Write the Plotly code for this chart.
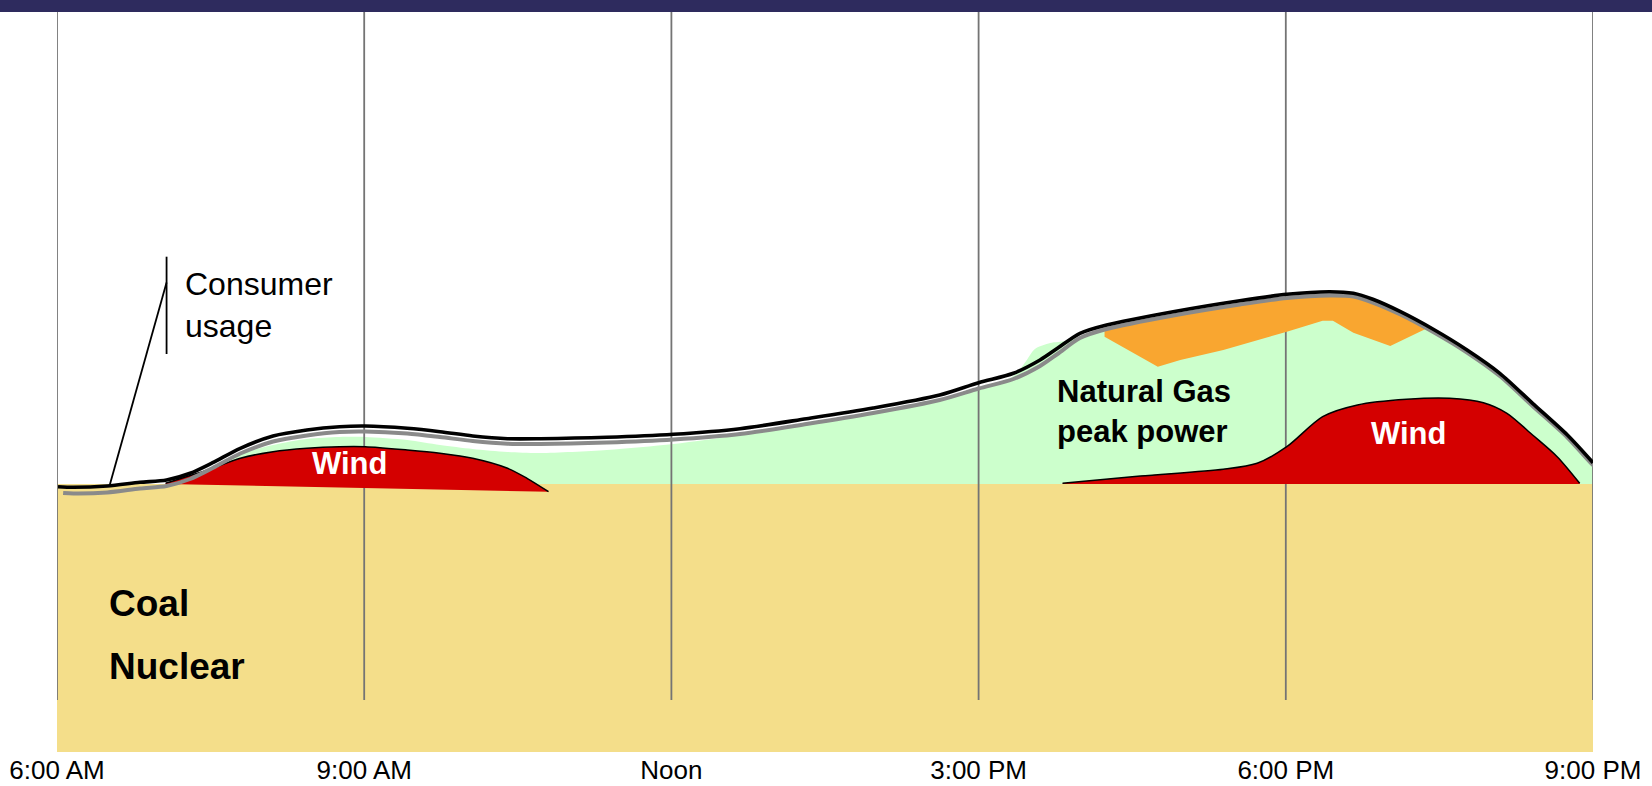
import plotly.graph_objects as go

# ---------------- data (x in hours of day, y in GW-like load units) ----------------
tick_hours = [6, 9, 12, 15, 18, 21]
tick_labels = ["6:00 AM", "9:00 AM", "Noon", "3:00 PM", "6:00 PM", "9:00 PM"]

base_load = 26.8  # coal / nuclear level

usage_x = [6.01, 6.16, 6.49, 6.81, 7.07, 7.30, 7.52, 7.79, 8.11, 8.44, 8.76, 9.01, 9.42, 9.74,
           10.06, 10.40, 10.72, 11.37, 12.02, 12.67, 13.32, 13.97, 14.62, 15.00, 15.34, 15.60,
           15.77, 15.99, 16.25, 16.90, 17.55, 18.01, 18.43, 18.66, 18.85, 19.12, 19.44, 19.77,
           20.09, 20.41, 20.75, 21.00]
usage_y = [26.53, 26.47, 26.60, 26.97, 27.20, 27.87, 28.93, 30.37, 31.60, 32.20, 32.53, 32.60,
           32.37, 32.03, 31.60, 31.33, 31.33, 31.47, 31.77, 32.33, 33.33, 34.40, 35.70, 36.93,
           37.87, 39.20, 40.37, 41.87, 42.70, 44.03, 45.13, 45.77, 46.03, 45.87, 45.27, 44.03,
           42.27, 40.20, 37.87, 34.87, 31.70, 28.93]

shadow_x = [6.06, 6.16, 6.49, 6.81, 7.07, 7.30, 7.52, 7.79, 8.11, 8.44, 8.76, 9.01, 9.42, 9.74,
            10.06, 10.40, 10.72, 11.37, 12.02, 12.67, 13.32, 13.97, 14.62, 15.00, 15.34, 15.60,
            15.77, 15.99, 16.25, 16.90, 17.55, 18.01, 18.43, 18.66, 18.85, 19.12, 19.44, 19.77,
            20.09, 20.41, 20.75, 21.00, 21.05]
shadow_y = [25.90, 25.85, 25.95, 26.35, 26.60, 27.30, 28.40, 29.85, 31.05, 31.65, 32.00, 32.05,
            31.85, 31.50, 31.10, 30.83, 30.80, 30.95, 31.25, 31.80, 32.80, 33.90, 35.20, 36.35,
            37.30, 38.60, 39.80, 41.40, 42.30, 43.65, 44.75, 45.40, 45.65, 45.55, 44.95, 43.75,
            42.00, 39.95, 37.60, 34.60, 31.45, 28.70, 28.30]

gas_x = [7.70, 8.11, 8.44, 8.76, 9.01, 9.42, 9.74, 10.06, 10.40, 10.72, 11.37, 12.02, 12.67,
         13.32, 13.97, 14.62, 15.00, 15.34, 15.45, 15.55, 15.70, 15.85, 15.99, 16.25, 16.90,
         17.55, 18.01, 18.43, 18.66, 18.85, 19.12, 19.44, 19.77, 20.09, 20.41, 20.75, 21.00,
         21.07, 21.07]
gas_y = [29.6, 30.7, 31.3, 31.5, 31.5, 31.2, 30.7, 30.3, 30.0, 29.9, 30.2, 30.8, 31.7,
         32.8, 33.9, 35.2, 36.35, 37.6, 38.9, 40.3, 40.9, 41.1, 41.5, 42.4, 43.8,
         44.9, 45.5, 45.7, 45.6, 45.0, 43.8, 42.1, 40.1, 37.7, 34.8, 31.7, 29.0,
         27.5, 25.5]
gas_floor_x = [7.60, 21.07]
gas_floor_y = [25.0, 25.0]

wind_am_x = [7.06, 7.47, 7.79, 8.11, 8.44, 8.76, 9.01, 9.42, 9.74, 10.06, 10.40, 10.59, 10.80]
wind_am_y = [26.87, 28.20, 29.37, 30.03, 30.37, 30.53, 30.53, 30.20, 29.87, 29.37, 28.37, 27.37, 26.03]
wind_am_floor_x = [7.06, 10.80]
wind_am_floor_y = [26.80, 26.03]

wind_pm_x = [15.82, 16.58, 17.39, 17.72, 18.01, 18.36, 18.70, 19.18, 19.60, 19.93, 20.16,
             20.41, 20.65, 20.87]
wind_pm_y = [26.87, 27.60, 28.27, 28.87, 30.53, 33.53, 34.70, 35.27, 35.37, 34.93, 33.87,
             31.70, 29.53, 26.87]
wind_pm_floor_x = [15.82, 20.87]
wind_pm_floor_y = [26.80, 26.80]

peak_low_x = [16.23, 16.75, 16.97, 17.39, 18.01, 18.36, 18.46, 18.66, 19.02, 19.38]
peak_low_y = [41.53, 38.53, 39.20, 40.20, 42.03, 43.13, 43.13, 41.93, 40.60, 42.37]
peak_top_x = [16.23, 16.90, 17.55, 18.01, 18.43, 18.66, 18.85, 19.00, 19.20, 19.38]
peak_top_y = [42.20, 43.60, 44.70, 45.35, 45.60, 45.50, 45.00, 44.40, 43.40, 42.37]

callout_x = [7.07, 7.07, None, 7.07, 6.515]
callout_y = [49.53, 39.80, None, 46.95, 26.70]

grid_bottom, grid_top = 5.2, 75.2

# ---------------- colours ----------------
TAN = "#F4DE8A"
GREEN = "#CCFFCC"
RED = "#D40000"
ORANGE = "#F9A630"
NAVY = "#2E2B5E"
FONT = "Liberation Sans, Arial, sans-serif"

fig = go.Figure()

# natural gas (green) area
fig.add_trace(go.Scatter(x=gas_floor_x, y=gas_floor_y, mode="lines", line=dict(width=0),
                         hoverinfo="skip"))
fig.add_trace(go.Scatter(x=gas_x, y=gas_y, mode="lines", fill="tonexty", fillcolor=GREEN,
                         line=dict(width=0, shape="spline", smoothing=0.8), hoverinfo="skip"))

# coal / nuclear base
fig.add_trace(go.Scatter(x=[tick_hours[0], tick_hours[-1]], y=[base_load, base_load], mode="lines",
                         fill="tozeroy", fillcolor=TAN, line=dict(width=0), hoverinfo="skip"))

# vertical grid lines
gx, gy = [], []
for h in tick_hours:
    gx += [h, h, None]
    gy += [grid_bottom, grid_top, None]
fig.add_trace(go.Scatter(x=gx, y=gy, mode="lines", line=dict(color="#747474", width=1.8),
                         hoverinfo="skip"))

# wind morning
fig.add_trace(go.Scatter(x=wind_am_floor_x, y=wind_am_floor_y, mode="lines", line=dict(width=0),
                         hoverinfo="skip"))
fig.add_trace(go.Scatter(x=wind_am_x, y=wind_am_y, mode="lines", fill="tonexty", fillcolor=RED,
                         line=dict(width=1.5, color="black", shape="spline", smoothing=0.8),
                         hoverinfo="skip"))
# wind evening
fig.add_trace(go.Scatter(x=wind_pm_floor_x, y=wind_pm_floor_y, mode="lines", line=dict(width=0),
                         hoverinfo="skip"))
fig.add_trace(go.Scatter(x=wind_pm_x, y=wind_pm_y, mode="lines", fill="tonexty", fillcolor=RED,
                         line=dict(width=1.5, color="black", shape="spline", smoothing=0.8),
                         hoverinfo="skip"))
# orange peak
fig.add_trace(go.Scatter(x=peak_low_x, y=peak_low_y, mode="lines", line=dict(width=0),
                         hoverinfo="skip"))
fig.add_trace(go.Scatter(x=peak_top_x, y=peak_top_y, mode="lines", fill="tonexty", fillcolor=ORANGE,
                         line=dict(width=0, shape="spline", smoothing=0.8), hoverinfo="skip"))

# consumer usage lines
fig.add_trace(go.Scatter(x=shadow_x, y=shadow_y, mode="lines",
                         line=dict(color="#8A8A8A", width=4, shape="spline", smoothing=0.8),
                         hoverinfo="skip"))
fig.add_trace(go.Scatter(x=usage_x, y=usage_y, mode="lines",
                         line=dict(color="black", width=3.6, shape="spline", smoothing=0.8),
                         hoverinfo="skip"))

# callout
fig.add_trace(go.Scatter(x=callout_x, y=callout_y, mode="lines",
                         line=dict(color="black", width=1.8), hoverinfo="skip"))

annos = [
    dict(x=7.23, y=44.75, text="Consumer<br>usage", xanchor="left", yanchor="middle",
         align="left", font=dict(size=32, color="black", family=FONT)),
    dict(x=6.49, y=14.9, text="<b>Coal</b>", xanchor="left", yanchor="middle",
         font=dict(size=37, color="black", family=FONT)),
    dict(x=6.49, y=8.6, text="<b>Nuclear</b>", xanchor="left", yanchor="middle",
         font=dict(size=37, color="black", family=FONT)),
    dict(x=15.75, y=34.1, text="<b>Natural Gas<br>peak power</b>", xanchor="left",
         yanchor="middle", align="left", font=dict(size=31, color="black", family=FONT)),
    dict(x=8.86, y=28.9, text="<b>Wind</b>", xanchor="center", yanchor="middle",
         font=dict(size=31, color="white", family=FONT)),
    dict(x=19.20, y=31.85, text="<b>Wind</b>", xanchor="center", yanchor="middle",
         font=dict(size=31, color="white", family=FONT)),
]
for a in annos:
    a.update(xref="x", yref="y", showarrow=False)

fig.update_layout(
    width=1652, height=786,
    margin=dict(l=57, r=59, t=0, b=34, pad=0),
    paper_bgcolor="white", plot_bgcolor="white",
    showlegend=False, hovermode=False,
    font=dict(family=FONT, color="black"),
    annotations=annos,
    xaxis=dict(range=[6, 21], tickvals=tick_hours, ticktext=tick_labels, showgrid=False,
               zeroline=False, showline=False, ticks="", tickfont=dict(size=26, color="black"),
               fixedrange=True),
    yaxis=dict(range=[0, 75.2], visible=False, fixedrange=True),
    shapes=[dict(type="rect", xref="paper", yref="paper", x0=-0.05, x1=1.05,
                 y0=1 - 12 / 752, y1=1.0, fillcolor=NAVY, line=dict(width=0), layer="above")],
)

fig.write_html(
    "out.html",
    config={"displayModeBar": False},
    post_script="document.body.style.margin='0';document.body.style.overflow='hidden';",
)
